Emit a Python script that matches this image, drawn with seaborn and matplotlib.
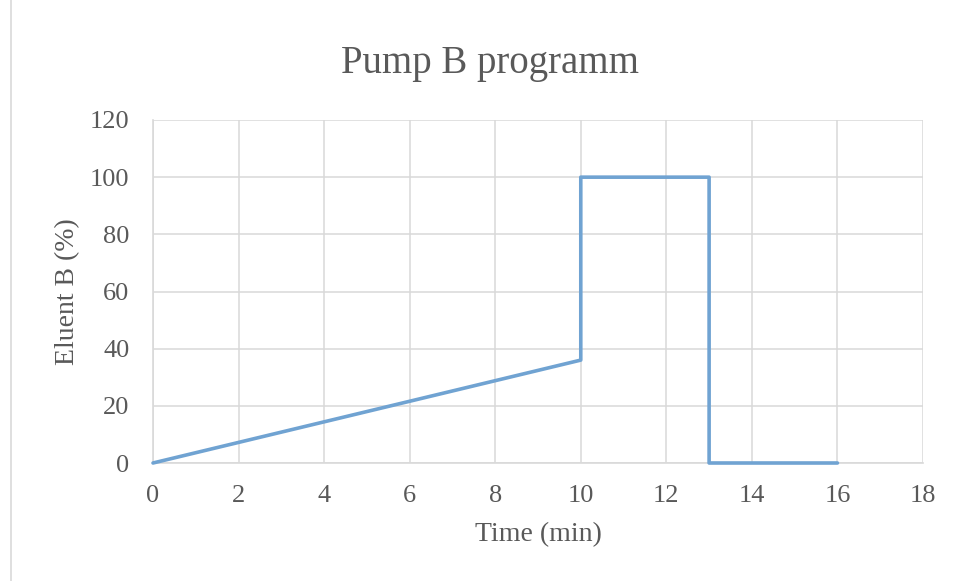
import matplotlib
matplotlib.use("Agg")
import matplotlib.pyplot as plt
import seaborn as sns
from matplotlib.lines import Line2D

time_min = [0, 10, 10, 13, 13, 16]
eluent_b = [0, 36, 100, 100, 0, 0]
x_ticks = [0, 2, 4, 6, 8, 10, 12, 14, 16, 18]
y_ticks = [0, 20, 40, 60, 80, 100, 120]

sns.set_theme(style="whitegrid")
plt.rcParams['font.family'] = ['Liberation Serif', 'DejaVu Serif']

txt = "#595959"
grid = "#d9d9d9"
line_c = "#70a3d2"

fig = plt.figure(figsize=(9.61, 5.81), dpi=100)
ax = fig.add_axes([153/961, 1-463/581, (923-153)/961, (463-120)/581])

sns.lineplot(x=time_min, y=eluent_b, sort=False, estimator=None, ax=ax,
             color=line_c, linewidth=2.6)
for ln in ax.lines:
    ln.set_clip_on(False)
    ln.set_zorder(5)

ax.set_xlim(0, 18)
ax.set_ylim(0, 120)
ax.set_xticks(x_ticks)
ax.set_yticks(y_ticks)
ax.grid(True, color=grid, linewidth=1.1)
for s in ["top", "right"]:
    ax.spines[s].set_visible(False)
for s in ["left", "bottom"]:
    ax.spines[s].set_color(grid)
    ax.spines[s].set_linewidth(1.2)
ax.tick_params(axis="both", length=0, labelsize=19, labelcolor=txt)
ax.tick_params(axis="x", pad=16)
ax.tick_params(axis="y", pad=17)

ax.set_xlabel("Time (min)", fontsize=20, color=txt)
ax.xaxis.set_label_coords(0.5, -(535-463)/343, transform=ax.transAxes)
ax.xaxis.label.set_va("center")
ax.set_ylabel("Eluent B (%)", fontsize=20, color=txt)
ax.yaxis.set_label_coords(-(153-68)/770, 0.5)
ax.yaxis.label.set_va("center")

fig.text(490/961, 1-63/581, "Pump B programm", fontsize=28, color=txt,
         ha="center", va="center")

fig.add_artist(Line2D([11/961, 11/961], [0, 1], transform=fig.transFigure,
                      color=grid, linewidth=1.2))

fig.savefig("out.png", dpi=100, facecolor="white")
